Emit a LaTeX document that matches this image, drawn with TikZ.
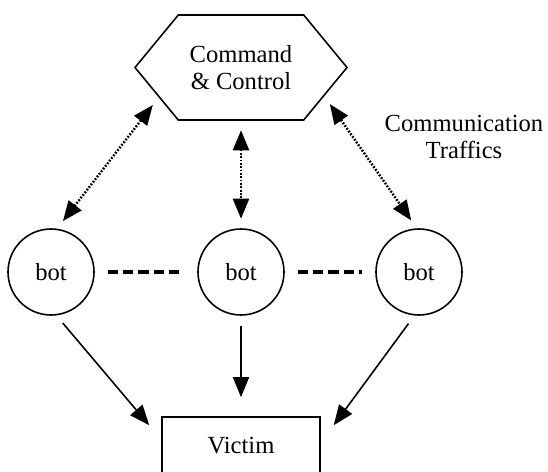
\documentclass[tikz,border=0pt]{standalone}
\usepackage{fontspec}
\setmainfont{Liberation Serif}
\usetikzlibrary{arrows.meta,shapes.symbols}
\begin{document}
\begin{tikzpicture}[every node/.style={font=\fontsize{14}{15.5}\selectfont,align=center},
	botnode/.style={circle,draw,line width=0.9pt,minimum size=1.72cm,inner sep=0},
	traffic/.style={{Triangle[length=0.4cm,width=0.32cm]}-{Triangle[length=0.4cm,width=0.32cm]},
		line width=1.4pt,dash pattern=on 1pt off 0.9pt,shorten <=0.19cm,shorten >=0.19cm},
	attack/.style={-{Triangle[length=0.4cm,width=0.32cm]},line width=0.9pt,shorten <=0.2cm},
	peer/.style={line width=2.3pt,dash pattern=on 5.9pt off 2.8pt,shorten <=0.26cm,shorten >=0.26cm}]
\useasboundingbox (0,0) rectangle (10.96,-9.44);
\node[draw,line width=0.9pt,shape=signal,signal to=east and west,signal pointer angle=101,
	minimum width=4.24cm,minimum height=2.1cm] (cc) at (4.82,-1.35) {Command\\\& Control};
\node (traffic) at (9.28,-2.74) {Communication\\Traffics};
\node[botnode] (bot1) at (1.02,-5.44) {bot};
\node[botnode] (bot2) at (4.82,-5.44) {bot};
\node[botnode] (bot3) at (8.38,-5.44) {bot};
\node[draw,line width=0.9pt,minimum width=3.16cm,minimum height=1.16cm] (victim) at (4.82,-8.92) {Victim};
\coordinate (vl) at ([shift={(-0.24,-0.18)}]victim.north west);
\coordinate (vr) at ([shift={(0.26,-0.18)}]victim.north east);
\draw[traffic] (cc.-160) -- (bot1.82);
\draw[traffic] (cc.south) -- (bot2.north);
\draw[traffic] (cc.-19) -- (bot3.93);
\draw[peer] (bot1) -- (bot2);
\draw[peer] (bot2) -- (bot3);
\draw[attack] (bot1.-83) -- (vl);
\draw[attack,shorten >=0.38cm] (bot2.south) -- (victim.north);
\draw[attack] (bot3.-96) -- (vr);
\end{tikzpicture}
\end{document}
